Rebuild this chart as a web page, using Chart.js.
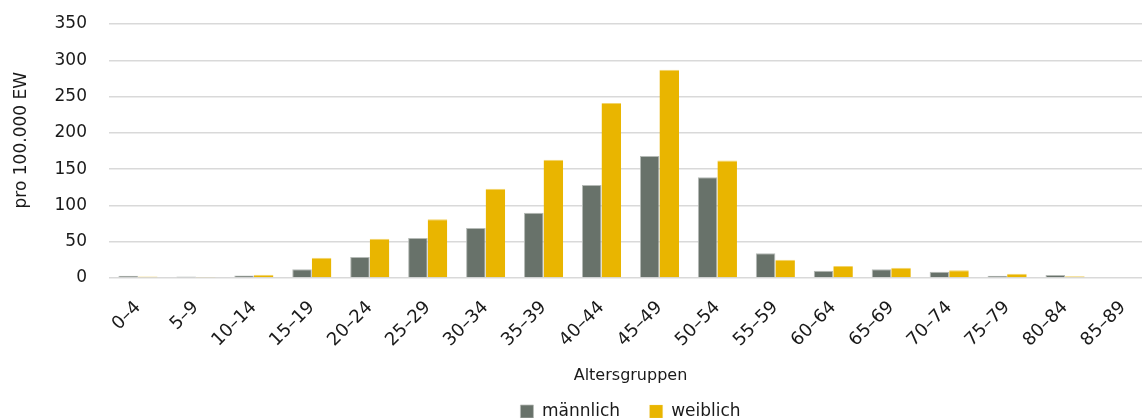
<!DOCTYPE html>
<html>
<head>
<meta charset="utf-8">
<script src="https://cdn.jsdelivr.net/npm/chart.js@4/dist/chart.umd.min.js"></script>
<style>
html,body{margin:0;padding:0;background:#fff;}
#wrap{width:1142px;height:418px;position:relative;overflow:hidden;}
#c{display:block;}
</style>
</head>
<body>
<div id="wrap"><canvas id="c" width="1152" height="418"></canvas></div>
<script>
const categories = ["0–4","5–9","10–14","15–19","20–24","25–29","30–34","35–39","40–44","45–49","50–54","55–59","60–64","65–69","70–74","75–79","80–84","85–89"];
const maleValues = [3,2,3.5,12,29,55,69,90,128,168,139,34,10,12,8.7,3,4,0];
const femaleValues = [2,1.5,4.5,28,54,81,123,163,241,287,162,25,16.5,14,10.6,6,2.3,1];
const yTicks = [0,50,100,150,200,250,300,350];
const seriesNames = ["männlich","weiblich"];
const yTitle = "pro 100.000 EW";
const xTitle = "Altersgruppen";

const FONT = "DejaVu Sans";
Chart.defaults.font.family = FONT;
Chart.defaults.color = "#1a1a1a";

function zeroPad(s) { s.paddingLeft = 0; s.paddingRight = 0; s.paddingTop = 0; s.paddingBottom = 0; }

new Chart(document.getElementById("c"), {
  type: "bar",
  data: {
    labels: categories,
    datasets: [
      {label: seriesNames[0], data: maleValues, backgroundColor: "#68726a", borderColor: "#b5bab6", borderWidth: {top:1,left:1,right:1,bottom:0}},
      {label: seriesNames[1], data: femaleValues, backgroundColor: "#e9b500", borderColor: "#f2d36a", borderWidth: {top:1,left:0,right:0,bottom:0}}
    ]
  },
  options: {
    responsive: false,
    animation: false,
    layout: {padding: {left: 4, right: 0, top: 24, bottom: -12}},
    datasets: {bar: {categoryPercentage: 0.675, barPercentage: 1.0}},
    plugins: {
      legend: {
        position: "bottom",
        fullSize: false,
        labels: {
          boxWidth: 13, boxHeight: 13, font: {size: 17}, padding: 8, color: "#1a1a1a",
          generateLabels: (chart) => {
            const items = Chart.defaults.plugins.legend.labels.generateLabels(chart);
            items[0].text = items[0].text + "    ";
            return items;
          }
        }
      },
      tooltip: {enabled: false}
    },
    scales: {
      x: {
        afterFit: (s) => { s.height = 117; zeroPad(s); },
        grid: {display: false, drawTicks: false},
        border: {display: false},
        ticks: {minRotation: 45, maxRotation: 45, font: {size: 18}, padding: 19, color: "#1a1a1a"},
        title: {display: true, text: xTitle, font: {size: 16}, color: "#1a1a1a", padding: {top: 0, bottom: 10}}
      },
      y: {
        min: 0, max: 350,
        afterBuildTicks: (s) => { s.ticks = yTicks.map(v => ({value: v})); },
        afterFit: (s) => { s.width = 105; zeroPad(s); },
        grid: {color: "#d9d9d9", lineWidth: 1.5, drawTicks: false},
        border: {display: false},
        ticks: {font: {size: 17}, padding: 22, color: "#1a1a1a"},
        title: {display: true, text: "    " + yTitle, font: {size: 17}, color: "#1a1a1a", padding: {top: 7, bottom: 0}}
      }
    }
  }
});
</script>
</body>
</html>
